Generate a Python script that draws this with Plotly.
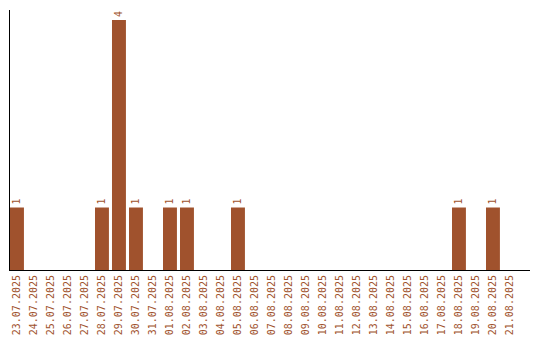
import plotly.graph_objects as go

dates = ["23.07.2025","24.07.2025","25.07.2025","26.07.2025","27.07.2025","28.07.2025",
         "29.07.2025","30.07.2025","31.07.2025","01.08.2025","02.08.2025","03.08.2025",
         "04.08.2025","05.08.2025","06.08.2025","07.08.2025","08.08.2025","09.08.2025",
         "10.08.2025","11.08.2025","12.08.2025","13.08.2025","14.08.2025","15.08.2025",
         "16.08.2025","17.08.2025","18.08.2025","19.08.2025","20.08.2025","21.08.2025"]
counts = [1,0,0,0,0,1,4,1,0,1,1,0,0,1,0,0,0,0,0,0,0,0,0,0,0,0,1,0,1,0]

color = "#A0522D"
labels = [str(v) if v > 0 else "" for v in counts]

fig = go.Figure(go.Bar(
    x=list(range(len(dates))), y=counts, marker_color=color, marker_line_width=0,
    width=0.82,
    text=labels, textposition="outside", textangle=-90,
    textfont=dict(family="DejaVu Sans Mono", size=10, color=color),
    cliponaxis=False,
))
fig.update_layout(
    width=540, height=340, margin=dict(l=10, r=10, t=10, b=70),
    paper_bgcolor="white", plot_bgcolor="white", showlegend=False,
    xaxis=dict(range=[-0.41, 30.18], tickmode="array", tickvals=list(range(len(dates))),
               ticktext=dates, tickangle=-90, showgrid=False, zeroline=False,
               showline=True, linecolor="black", linewidth=1, ticks="",
               tickfont=dict(family="DejaVu Sans Mono", size=10, color=color),
               automargin=False),
    yaxis=dict(range=[0, 4.16], showgrid=False, zeroline=False, showticklabels=False,
               showline=True, linecolor="black", linewidth=1, ticks=""),
)
fig.write_html("out.html")
